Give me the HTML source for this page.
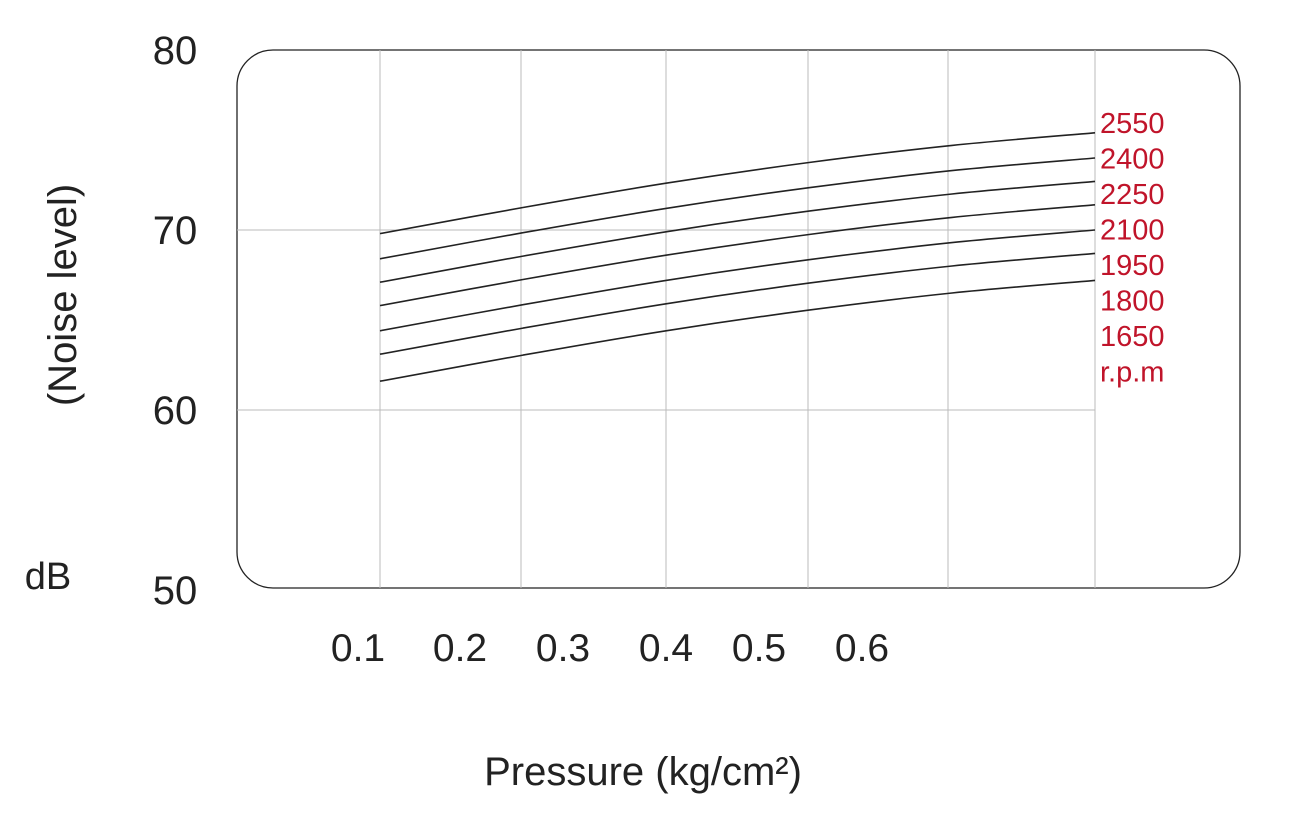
<!DOCTYPE html>
<html><head><meta charset="utf-8"><style>
body{margin:0;background:#fff;}
svg{display:block;font-family:"Liberation Sans",sans-serif;}
</style></head><body>
<svg id="chart" width="1300" height="820" viewBox="0 0 1300 820">
<rect x="237" y="50" width="1003" height="538" rx="36" ry="36" fill="none" stroke="#222" stroke-width="1.3"/>
<g id="grid"></g>
<g id="lines"></g>
<g id="labels"></g>
<text transform="translate(76,295) rotate(-90)" text-anchor="middle" font-size="40" fill="#222">(Noise level)</text>
<text x="48" y="589" text-anchor="middle" font-size="38" fill="#222">dB</text>
<text x="643" y="785" text-anchor="middle" font-size="40" fill="#222">Pressure (kg/cm²)</text>
</svg>
<script>
const yTicks=[80,70,60,50];
const xTickLabels=["0.1","0.2","0.3","0.4","0.5","0.6"];
const pressures=[0.1,0.2,0.3,0.4,0.5,0.6];
const rpmLabels=["2550","2400","2250","2100","1950","1800","1650"];
const s2550=[69.8,71.25,72.6,73.75,74.7,75.4];
const s2400=[68.4,69.85,71.2,72.35,73.3,74.0];
const s2250=[67.1,68.55,69.9,71.05,72.0,72.7];
const s2100=[65.8,67.25,68.6,69.75,70.7,71.4];
const s1950=[64.4,65.85,67.2,68.35,69.3,70.0];
const s1800=[63.1,64.55,65.9,67.05,68.0,68.7];
const s1650=[61.6,63.05,64.4,65.55,66.5,67.2];
const series=[s2550,s2400,s2250,s2100,s1950,s1800,s1650];

const NS="http://www.w3.org/2000/svg";
const X=p=>380+(p-0.1)/0.5*715;
const Y=v=>590-(v-50)*18;
const grid=document.getElementById('grid'),lines=document.getElementById('lines'),labels=document.getElementById('labels');
function mk(t,a,parent){const e=document.createElementNS(NS,t);for(const k in a)e.setAttribute(k,a[k]);parent.appendChild(e);return e;}
const gridXs=[380,521,666,808,948,1095];
gridXs.forEach(gx=>{
 const l=mk('line',{x1:gx,x2:gx,y1:50,y2:588,stroke:'#bbb','stroke-width':1},grid);
 
 
});
[70,60].forEach(v=>{
 const l=mk('line',{x1:237,x2:1095,y1:Y(v),y2:Y(v),stroke:'#bbb','stroke-width':1},grid);
 
 
});
yTicks.forEach(v=>{
 const t=mk('text',{x:175,y:Y(v)+14,'text-anchor':'middle','font-size':40,fill:'#222'},labels);
 t.textContent=v;
 
 
});
const xLabelCenters=[358,460,563,666,759,862];
xTickLabels.forEach((s,i)=>{
 const t=mk('text',{x:xLabelCenters[i],y:661,'text-anchor':'middle','font-size':39,fill:'#222'},labels);
 t.textContent=s;
 
 
});
function path(pts){
 let d=`M${pts[0][0]},${pts[0][1]}`;
 for(let i=0;i<pts.length-1;i++){
  const p0=pts[Math.max(i-1,0)],p1=pts[i],p2=pts[i+1],p3=pts[Math.min(i+2,pts.length-1)];
  d+=` C${p1[0]+(p2[0]-p0[0])/6},${p1[1]+(p2[1]-p0[1])/6} ${p2[0]-(p3[0]-p1[0])/6},${p2[1]-(p3[1]-p1[1])/6} ${p2[0]},${p2[1]}`;
 }
 return d;
}
series.forEach((s,k)=>{
 const pts=s.map((v,i)=>[X(pressures[i]),Y(v)]);
 const p=mk('path',{d:path(pts),fill:'none',stroke:'#222','stroke-width':1.6},lines);
 
 
});
rpmLabels.concat(["r.p.m"]).forEach((s,i)=>{
 const t=mk('text',{x:1100,y:133+i*35.5,'font-size':29,fill:'#c0142a'},labels);
 t.textContent=s;
 
 
});
</script>
</body></html>
